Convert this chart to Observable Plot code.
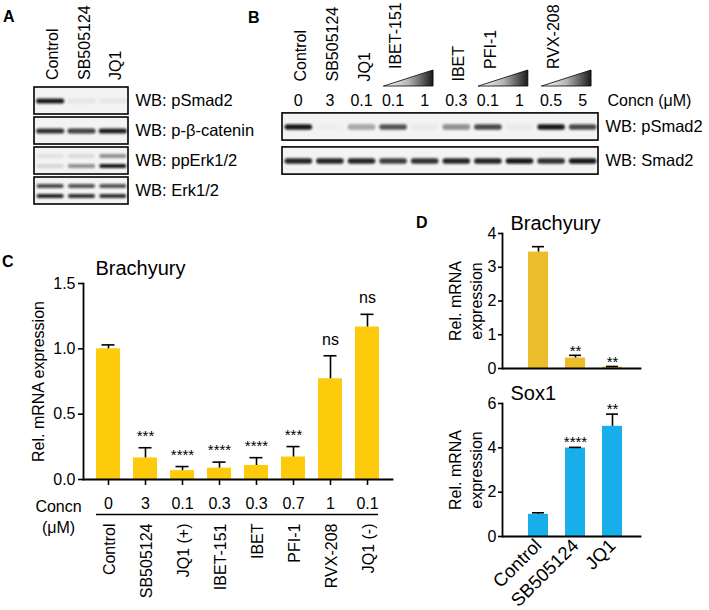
<!DOCTYPE html>
<html><head><meta charset="utf-8">
<script src="https://cdn.jsdelivr.net/npm/d3@7"></script>
<script src="https://cdn.jsdelivr.net/npm/@observablehq/plot@0.6"></script>
<style>
body{margin:0;background:#fff;}
#fig{position:relative;width:709px;height:610px;font-family:"Liberation Sans",Arial,sans-serif;color:#000;overflow:hidden;background:#fff;}
#fig svg{position:absolute;overflow:visible;background:none;}
.lbl{position:absolute;font-weight:bold;font-size:16px;line-height:16px;}
</style></head><body><div id="fig"></div>
<script>
// ---------- DATA ----------
// Panel A (western blot, band intensities 0..1)
const lanesA = ["Control", "SB505124", "JQ1"];
const rowsA = ["pSmad2", "p-β-catenin", "ppErk1/2", "Erk1/2"];
const pSmad2A = [0.95, 0.06, 0.05];
const pBcatA = [0.85, 0.78, 0.92];
const ppErkUpperA = [0.08, 0.1, 0.45];
const ppErkLowerA = [0.12, 0.45, 0.95];
const erkUpperA = [0.75, 0.7, 0.7];
const erkLowerA = [0.9, 0.85, 0.85];

// Panel B
const concnB = ["0", "3", "0.1", "0.1", "1", "0.3", "0.1", "1", "0.5", "5"];
const treatmentsB = ["Control", "SB505124", "JQ1", "IBET-151", "IBET", "PFI-1", "RVX-208"];
const treatmentLanesB = [[0], [1], [2], [3, 4], [5], [6, 7], [8, 9]];
const rowsB = ["pSmad2", "Smad2"];
const pSmad2B = [0.95, 0.02, 0.35, 0.7, 0.04, 0.45, 0.75, 0.04, 0.95, 0.75];
const smad2B = [0.9, 0.9, 0.9, 0.8, 0.85, 0.9, 0.9, 0.95, 0.85, 0.95];

// Panel C
const catC = ["Control", "SB505124", "JQ1 (+)", "IBET-151", "IBET", "PFI-1", "RVX-208", "JQ1 (-)"];
const concnC = ["0", "3", "0.1", "0.3", "0.3", "0.7", "1", "0.1"];
const meanC = [1.0, 0.165, 0.068, 0.087, 0.107, 0.172, 0.771, 1.167];
const semC = [0.03, 0.078, 0.031, 0.046, 0.06, 0.08, 0.176, 0.097];
const sigC = ["", "***", "****", "****", "****", "***", "ns", "ns"];

// Panel D
const catD = ["Control", "SB505124", "JQ1"];
const brachyD = [3.45, 0.31, 0.04];
const brachySemD = [0.16, 0.08, 0.02];
const brachySigD = ["", "**", "**"];
const sox1D = [1.0, 3.99, 4.97];
const sox1SemD = [0.07, 0.03, 0.55];
const sox1SigD = ["", "****", "**"];

// ---------- HELPERS ----------
const fig = document.getElementById("fig");
const FONT = "'Liberation Sans', Arial, Helvetica, sans-serif";
const baseStyle = {fontFamily: FONT, fontSize: "16px", background: "none", overflow: "visible", color: "black"};
function place(svg, left, top) {
  svg.style.position = "absolute";
  svg.style.left = left + "px";
  svg.style.top = top + "px";
  svg.style.maxWidth = "none";
  fig.appendChild(svg);
  return svg;
}
function addDefs(svg, html) {
  const defs = document.createElementNS("http://www.w3.org/2000/svg", "defs");
  defs.innerHTML = html;
  svg.insertBefore(defs, svg.firstChild);
}
function blurBands(svg, id, sd) {
  addDefs(svg, `<filter id="${id}" x="-20%" y="-100%" width="140%" height="300%"><feGaussianBlur stdDeviation="${sd}"/></filter>`);
  svg.querySelectorAll('g[aria-label="link"]').forEach(g => g.setAttribute("filter", `url(#${id})`));
}
const sub = {single: 0, upper: -0.17, lower: 0.17};
function letter(t, left, top) {
  const d = document.createElement("div");
  d.className = "lbl"; d.textContent = t;
  d.style.left = left + "px"; d.style.top = top + "px";
  fig.appendChild(d);
}

// ---------- PANEL A ----------
const bandsA = [
  ...pSmad2A.map((v, i) => ({row: 0, lane: i, v, pos: "single"})),
  ...pBcatA.map((v, i) => ({row: 1, lane: i, v, pos: "single"})),
  ...ppErkUpperA.map((v, i) => ({row: 2, lane: i, v, pos: "upper"})),
  ...ppErkLowerA.map((v, i) => ({row: 2, lane: i, v, pos: "lower"})),
  ...erkUpperA.map((v, i) => ({row: 3, lane: i, v, pos: "upper"})),
  ...erkLowerA.map((v, i) => ({row: 3, lane: i, v, pos: "lower"}))
];
const svgA = Plot.plot({
  width: 240, height: 215,
  marginLeft: 34, marginRight: 112, marginTop: 85.5, marginBottom: 9.5,
  x: {domain: [-0.5, lanesA.length - 0.5], axis: null},
  y: {domain: [-0.5, rowsA.length - 0.5], reverse: true, axis: null},
  style: baseStyle,
  marks: [
    Plot.rect(rowsA, {x1: -0.5, x2: lanesA.length - 0.5, y1: (d, i) => i - 0.45, y2: (d, i) => i + 0.45, fill: "#f3f3f3", stroke: "black", strokeWidth: 1.6}),
    Plot.link(bandsA, {x1: d => d.lane - 0.37, x2: d => d.lane + 0.37, y1: d => d.row + sub[d.pos], y2: d => d.row + sub[d.pos],
      stroke: "#101010", strokeOpacity: d => d.v, strokeWidth: d => d.pos === "single" ? 5 : 4, strokeLinecap: "round"}),
    Plot.text(lanesA, {x: (d, i) => i, frameAnchor: "top", rotate: -90, textAnchor: "start", lineAnchor: "middle", dx: 3, dy: -6, fontSize: 16}),
    Plot.text(rowsA, {y: (d, i) => i, frameAnchor: "right", textAnchor: "start", dx: 7, text: d => "WB: " + d, fontSize: 16.5})
  ]
});
place(svgA, 0, 0);
blurBands(svgA, "blurA", 1.1);

// ---------- PANEL B ----------
const bandsB = [
  ...pSmad2B.map((v, i) => ({row: 0, lane: i, v})),
  ...smad2B.map((v, i) => ({row: 1, lane: i, v}))
];
const labelsB = treatmentsB.map((t, i) => ({t, lane: treatmentLanesB[i][0], ramp: treatmentLanesB[i].length > 1}));
const svgB = Plot.plot({
  width: 479, height: 190,
  marginLeft: 52, marginRight: 111, marginTop: 109.5, marginBottom: 12.5,
  x: {domain: [-0.5, concnB.length - 0.5], axis: null},
  y: {domain: [-0.5, rowsB.length - 0.5], reverse: true, axis: null},
  style: baseStyle,
  marks: [
    Plot.rect(rowsB, {x1: -0.5, x2: concnB.length - 0.5, y1: (d, i) => i - 0.4, y2: (d, i) => i + 0.4, fill: "#f3f3f3", stroke: "black", strokeWidth: 1.6}),
    Plot.link(bandsB, {x1: d => d.lane - 0.35, x2: d => d.lane + 0.35, y1: d => d.row, y2: d => d.row,
      stroke: "#101010", strokeOpacity: d => d.v, strokeWidth: 5.5, strokeLinecap: "round"}),
    Plot.text(concnB, {x: (d, i) => i, frameAnchor: "top", lineAnchor: "bottom", dy: -4.5, fontSize: 16}),
    Plot.text(["Concn (μM)"], {frameAnchor: "top-right", textAnchor: "start", lineAnchor: "bottom", dx: 9, dy: -4.5, fontSize: 16}),
    Plot.text(labelsB.filter(d => !d.ramp), {x: "lane", text: "t", frameAnchor: "top", rotate: -90, textAnchor: "start", lineAnchor: "middle", dx: 3, dy: -28.5, fontSize: 16}),
    Plot.text(labelsB.filter(d => d.ramp), {x: "lane", text: "t", frameAnchor: "top", rotate: -90, textAnchor: "start", lineAnchor: "middle", dx: 3, dy: -41, fontSize: 16}),
    Plot.text(rowsB, {y: (d, i) => i, frameAnchor: "right", textAnchor: "start", dx: 7, text: d => "WB: " + d, fontSize: 16.5})
  ]
});
place(svgB, 230, 0);
blurBands(svgB, "blurB", 1.2);

// dose wedges (relative dose ramp 0 -> 1)
const wedgePts = [];
treatmentsB.forEach((t, i) => {
  const L = treatmentLanesB[i];
  if (L.length > 1) {
    wedgePts.push({t, x: L[0] - 0.28, ramp: 0});
    wedgePts.push({t, x: L[L.length - 1] + 0.28, ramp: 1});
  }
});
const svgW = Plot.plot({
  width: 479, height: 100,
  marginLeft: 52, marginRight: 111, marginTop: 70, marginBottom: 14,
  x: {domain: [-0.5, concnB.length - 0.5], axis: null},
  y: {domain: [0, 1], axis: null},
  style: baseStyle,
  marks: [
    Plot.areaY(wedgePts, {x: "x", y: "ramp", z: "t", fill: "url(#rampB)", stroke: "black", strokeWidth: 0.8})
  ]
});
addDefs(svgW, `<linearGradient id="rampB" x1="0" x2="1" y1="0" y2="0"><stop offset="0" stop-color="#ffffff"/><stop offset="0.5" stop-color="#b5b5b5"/><stop offset="1" stop-color="#1a1a1a"/></linearGradient>`);
place(svgW, 230, 0);

// ---------- PANEL C ----------
const yellowC = "#FDCB0B";
const dataC = catC.map((c, i) => ({cat: c, concn: concnC[i], mean: meanC[i], sem: semC[i], sig: sigC[i]}));
const svgC = Plot.plot({
  width: 410, height: 360,
  marginLeft: 83, marginRight: 18, marginTop: 33, marginBottom: 131,
  x: {domain: catC, padding: 0.35, axis: null, label: null},
  y: {domain: [0, 1.5], axis: null, label: null},
  style: baseStyle,
  marks: [
    Plot.barY(dataC, {x: "cat", y: "mean", fill: yellowC}),
    Plot.ruleX(dataC, {x: "cat", y1: "mean", y2: d => d.mean + d.sem, stroke: "black", strokeWidth: 1.6}),
    Plot.tickY(dataC, {x: "cat", y: d => d.mean + d.sem, insetLeft: 5.5, insetRight: 5.5, stroke: "black", strokeWidth: 1.6}),
    Plot.text(dataC.filter(d => d.sig.startsWith("*")), {x: "cat", y: d => d.mean + d.sem, text: "sig", lineAnchor: "bottom", dy: -7, fontSize: 15}),
    Plot.text(dataC.filter(d => d.sig === "ns"), {x: "cat", y: d => d.mean + d.sem, text: "sig", lineAnchor: "bottom", dy: -11, fontSize: 16}),
    Plot.axisY({ticks: [0, 0.5, 1, 1.5], tickFormat: ".1f", tickSize: 5, tickPadding: 3, fontSize: 16, label: null, strokeWidth: 1.6}),
    Plot.axisX({tickSize: 6, tickPadding: 12, tickFormat: d => concnC[catC.indexOf(d)], fontSize: 16, label: null, strokeWidth: 1.6}),
    Plot.frame({anchor: "left", strokeWidth: 1.8}),
    Plot.frame({anchor: "bottom", strokeWidth: 1.8}),
    Plot.ruleY([0], {dy: 35, insetLeft: 13, insetRight: 14, strokeWidth: 1.6}),
    Plot.text(catC, {x: d => d, frameAnchor: "bottom", rotate: -90, textAnchor: "end", lineAnchor: "middle", dx: 1, dy: 44, fontSize: 16}),
    Plot.text(["Concn\n(μM)"], {frameAnchor: "bottom-left", textAnchor: "middle", lineAnchor: "top", dx: -25, dy: 18, lineHeight: 1.3, fontSize: 16}),
    Plot.text(["Rel. mRNA expression"], {frameAnchor: "left", rotate: -90, textAnchor: "middle", lineAnchor: "middle", dx: -45, fontSize: 16}),
    Plot.text(["Brachyury"], {frameAnchor: "top-left", textAnchor: "start", lineAnchor: "bottom", dx: 12, dy: -9, fontSize: 20})
  ]
});
place(svgC, 0, 250);

// ---------- PANEL D ----------
function panelD({values, sems, sigs, color, title, yMax, ticks, height, marginBottom, showX, starDy}) {
  const data = catD.map((c, i) => ({cat: c, v: values[i], e: sems[i], sig: sigs[i]}));
  return Plot.plot({
    width: 240, height,
    marginLeft: 82, marginRight: 20, marginTop: 38, marginBottom,
    x: {domain: catD, padding: 0.47, insetLeft: 7, axis: null, label: null},
    y: {domain: [0, yMax], axis: null, label: null},
    style: baseStyle,
    marks: [
      Plot.barY(data, {x: "cat", y: "v", fill: color}),
      Plot.ruleX(data, {x: "cat", y1: "v", y2: d => d.v + d.e, stroke: "black", strokeWidth: 1.6}),
      Plot.tickY(data, {x: "cat", y: d => d.v + d.e, insetLeft: 4, insetRight: 4, stroke: "black", strokeWidth: 1.6}),
      Plot.text(data.filter(d => d.sig), {x: "cat", y: d => d.v + d.e, text: "sig", lineAnchor: "bottom", dy: starDy, fontSize: 15}),
      Plot.axisY({ticks, tickFormat: "d", tickSize: 4, tickPadding: 2, fontSize: 16, label: null, strokeWidth: 1.6}),
      showX ? Plot.axisX({tickRotate: -45, tickSize: 0, tickPadding: 6, fontSize: 18.5, label: null}) : null,
      Plot.frame({anchor: "left", strokeWidth: 1.8}),
      Plot.frame({anchor: "bottom", strokeWidth: 1.8}),
      Plot.text(["Rel. mRNA\nexpression"], {frameAnchor: "left", rotate: -90, textAnchor: "middle", lineAnchor: "middle", dx: -38, lineHeight: 1.34, fontSize: 16}),
      Plot.text([title], {frameAnchor: "top-left", textAnchor: "start", lineAnchor: "bottom", dx: 8, dy: -4, fontSize: 20})
    ]
  });
}
const svgD1 = panelD({values: brachyD, sems: brachySemD, sigs: brachySigD, color: "#EBBD2B", title: "Brachyury",
  yMax: 4, ticks: [0, 1, 2, 3, 4], height: 180, marginBottom: 7, showX: false, starDy: 1});
place(svgD1, 420, 195);
const svgD2 = panelD({values: sox1D, sems: sox1SemD, sigs: sox1SigD, color: "#17AEEA", title: "Sox1",
  yMax: 6, ticks: [0, 2, 4, 6], height: 245, marginBottom: 74, showX: true, starDy: 0});
place(svgD2, 420, 365);

// panel letters
letter("A", 3, 8.5);
letter("B", 248, 9.5);
letter("C", 2, 253.5);
letter("D", 416, 214.5);
</script>
</body></html>
